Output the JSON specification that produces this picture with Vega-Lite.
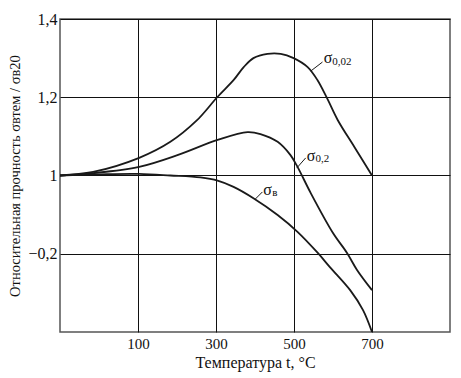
{
  "$schema": "https://vega.github.io/schema/vega-lite/v6.json",
  "width": 390,
  "height": 313,
  "autosize": "none",
  "padding": {"left": 60, "top": 19, "right": 11, "bottom": 46},
  "background": "white",
  "config": {
    "view": {"stroke": "#555", "strokeWidth": 1.5},
    "font": "Liberation Serif",
    "axis": {
      "labelFont": "Liberation Serif",
      "titleFont": "Liberation Serif",
      "labelColor": "#111",
      "titleColor": "#111",
      "titleFontWeight": "normal",
      "domain": false,
      "ticks": false,
      "grid": true,
      "gridColor": "#111",
      "gridWidth": 1,
      "gridOpacity": 1
    }
  },
  "datasets": {
    "curves": [
      {"series": "s002", "t": -100, "r": 1.0},
      {"series": "s002", "t": -15, "r": 1.009},
      {"series": "s002", "t": 103, "r": 1.045},
      {"series": "s002", "t": 183, "r": 1.086},
      {"series": "s002", "t": 250, "r": 1.14},
      {"series": "s002", "t": 303, "r": 1.2},
      {"series": "s002", "t": 346, "r": 1.245},
      {"series": "s002", "t": 371, "r": 1.277},
      {"series": "s002", "t": 396, "r": 1.3},
      {"series": "s002", "t": 432, "r": 1.311},
      {"series": "s002", "t": 466, "r": 1.311},
      {"series": "s002", "t": 499, "r": 1.3},
      {"series": "s002", "t": 535, "r": 1.277},
      {"series": "s002", "t": 560, "r": 1.244},
      {"series": "s002", "t": 586, "r": 1.195},
      {"series": "s002", "t": 612, "r": 1.142},
      {"series": "s002", "t": 656, "r": 1.071},
      {"series": "s002", "t": 700, "r": 1.0},
      {"series": "s02", "t": -100, "r": 1.0},
      {"series": "s02", "t": -15, "r": 1.006},
      {"series": "s02", "t": 103, "r": 1.022},
      {"series": "s02", "t": 201, "r": 1.052},
      {"series": "s02", "t": 304, "r": 1.091},
      {"series": "s02", "t": 381, "r": 1.111},
      {"series": "s02", "t": 414, "r": 1.106},
      {"series": "s02", "t": 458, "r": 1.086},
      {"series": "s02", "t": 491, "r": 1.052},
      {"series": "s02", "t": 509, "r": 1.022},
      {"series": "s02", "t": 543, "r": 0.955},
      {"series": "s02", "t": 600, "r": 0.853},
      {"series": "s02", "t": 636, "r": 0.802},
      {"series": "s02", "t": 662, "r": 0.758},
      {"series": "s02", "t": 700, "r": 0.707},
      {"series": "sb", "t": -100, "r": 1.0},
      {"series": "sb", "t": 3, "r": 1.003},
      {"series": "sb", "t": 103, "r": 1.004},
      {"series": "sb", "t": 183, "r": 1.0},
      {"series": "sb", "t": 260, "r": 0.995},
      {"series": "sb", "t": 304, "r": 0.987},
      {"series": "sb", "t": 345, "r": 0.971},
      {"series": "sb", "t": 396, "r": 0.942},
      {"series": "sb", "t": 458, "r": 0.899},
      {"series": "sb", "t": 509, "r": 0.856},
      {"series": "sb", "t": 561, "r": 0.802},
      {"series": "sb", "t": 592, "r": 0.766},
      {"series": "sb", "t": 644, "r": 0.707},
      {"series": "sb", "t": 677, "r": 0.656},
      {"series": "sb", "t": 700, "r": 0.6}
    ],
    "leaders": [
      {"t": 543, "r": 1.267, "t2": 573, "r2": 1.29},
      {"t": 507, "r": 1.019, "t2": 530, "r2": 1.045},
      {"t": 401, "r": 0.94, "t2": 419, "r2": 0.958}
    ],
    "main": [
      {"t": 576, "r": 1.3, "label": "σ"},
      {"t": 533, "r": 1.05, "label": "σ"},
      {"t": 421, "r": 0.962, "label": "σ"}
    ],
    "subs": [
      {"t": 598, "r": 1.29, "label": "0,02"},
      {"t": 555, "r": 1.042, "label": "0,2"},
      {"t": 444, "r": 0.955, "label": "в"}
    ]
  },
  "layer": [
    {
      "data": {"name": "curves"},
      "mark": {"type": "line", "interpolate": "catmull-rom", "stroke": "#1a1a1a", "strokeWidth": 1.8},
      "encoding": {
        "x": {
          "field": "t", "type": "quantitative",
          "scale": {"domain": [-100, 900], "nice": false, "zero": false},
          "axis": {
            "values": [100, 300, 500, 700],
            "title": "Температура t, °C",
            "labelFontSize": 15,
            "titleFontSize": 16,
            "labelPadding": 4,
            "titlePadding": 3
          }
        },
        "y": {
          "field": "r", "type": "quantitative",
          "scale": {"domain": [0.6, 1.4], "nice": false, "zero": false},
          "axis": {
            "values": [0.8, 1, 1.2, 1.4],
            "labelExpr": "datum.value == 1 ? '1' : (datum.value < 0.9 ? '−0,2' : replace(format(datum.value, '.1f'), '.', ','))",
            "title": "Относительная прочность σвтем / σв20",
            "labelFontSize": 16,
            "titleFontSize": 14.5,
            "labelPadding": 3,
            "titlePadding": 5
          }
        },
        "detail": {"field": "series"}
      }
    },
    {
      "data": {"name": "leaders"},
      "mark": {"type": "rule", "stroke": "#1a1a1a", "strokeWidth": 1},
      "encoding": {
        "x": {"field": "t", "type": "quantitative"},
        "y": {"field": "r", "type": "quantitative"},
        "x2": {"field": "t2"},
        "y2": {"field": "r2"}
      }
    },
    {
      "data": {"name": "main"},
      "mark": {"type": "text", "align": "left", "baseline": "middle", "fontSize": 16, "font": "Liberation Serif", "color": "#111"},
      "encoding": {
        "x": {"field": "t", "type": "quantitative"},
        "y": {"field": "r", "type": "quantitative"},
        "text": {"field": "label"}
      }
    },
    {
      "data": {"name": "subs"},
      "mark": {"type": "text", "align": "left", "baseline": "middle", "fontSize": 11, "font": "Liberation Serif", "color": "#111"},
      "encoding": {
        "x": {"field": "t", "type": "quantitative"},
        "y": {"field": "r", "type": "quantitative"},
        "text": {"field": "label"}
      }
    }
  ]
}
